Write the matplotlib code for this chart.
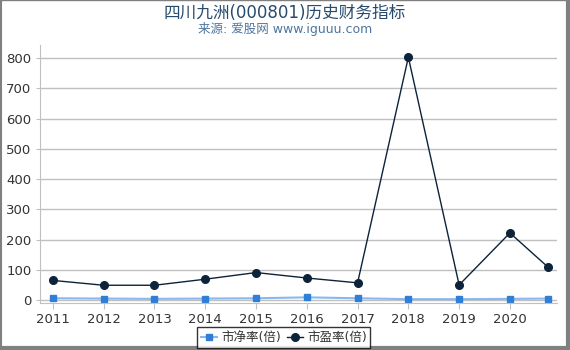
import matplotlib
matplotlib.use('Agg')
import matplotlib.pyplot as plt
from matplotlib.lines import Line2D

plt.rcParams['font.family'] = ['DejaVu Sans', 'Noto Sans CJK SC']

# --- dados ---
anos = [2011, 2012, 2013, 2014, 2015, 2016, 2017, 2018, 2019, 2020, 2020.75]
pb = [6, 5, 4, 5, 6, 9, 6, 3, 3, 4, 5]
pe = [65, 49, 49, 69, 91, 73, 57, 803, 50, 222, 109]
xticks = [2011, 2012, 2013, 2014, 2015, 2016, 2017, 2018, 2019, 2020]
yticks = [0, 100, 200, 300, 400, 500, 600, 700, 800]

fig = plt.figure(figsize=(5.7, 3.5), dpi=100)
ax = fig.add_axes([0.070, 0.134, 0.907, 0.737])

ax.plot(anos, pb, color='#8ab8ee', lw=1.5, marker='s', ms=4.5,
        mfc='#2f7ed8', mec='#2f7ed8', label='市净率(倍)')
ax.plot(anos, pe, color='#0d233a', lw=1, marker='o', ms=5.5,
        mfc='#0d233a', mec='#0d233a', label='市盈率(倍)')

ax.set_xlim(2010.744, 2020.925)
ax.set_ylim(-10, 843)
ax.set_xticks(xticks)
ax.set_xticklabels([str(x) for x in xticks])
ax.set_yticks(yticks)
ax.grid(axis='y', color='#c0c0c0', lw=1)
ax.set_axisbelow(True)
for s in ['top', 'right']:
    ax.spines[s].set_visible(False)
ax.spines['left'].set_color('#c0c0c0')
ax.spines['bottom'].set_color('#c0c0c0')
ax.tick_params(axis='both', colors='#c0c0c0', labelcolor='#333333', labelsize=9.5)
ax.tick_params(axis='y', length=3, pad=3)
ax.tick_params(axis='x', length=4, pad=3)

fig.text(0.5, 0.962, '四川九洲(000801)历史财务指标', ha='center', va='center',
         fontsize=12, color='#274b6d')
fig.text(0.5, 0.916, '来源: 爱股网 www.iguuu.com', ha='center', va='center',
         fontsize=9, color='#4d759e')

leg = fig.legend(loc='upper center', bbox_to_anchor=(0.498, 0.072), ncol=2,
                 fontsize=9, frameon=True, fancybox=False, edgecolor='black',
                 handlelength=1.3, handletextpad=0.3, columnspacing=0.5,
                 borderpad=0.3, borderaxespad=0.2)
leg.get_frame().set_linewidth(1)
for t in leg.get_texts():
    t.set_color('#333333')

# moldura da imagem
fig.add_artist(Line2D([0, 1], [0.999, 0.999], color='#808080', lw=1, transform=fig.transFigure))
fig.add_artist(Line2D([0.002, 0.002], [0, 1], color='#808080', lw=1.5, transform=fig.transFigure))
fig.add_artist(Line2D([0.996, 0.996], [0, 1], color='#808080', lw=3, transform=fig.transFigure))
fig.add_artist(Line2D([0, 1], [0.005, 0.005], color='#808080', lw=3, transform=fig.transFigure))

fig.savefig('out.png', dpi=100)
